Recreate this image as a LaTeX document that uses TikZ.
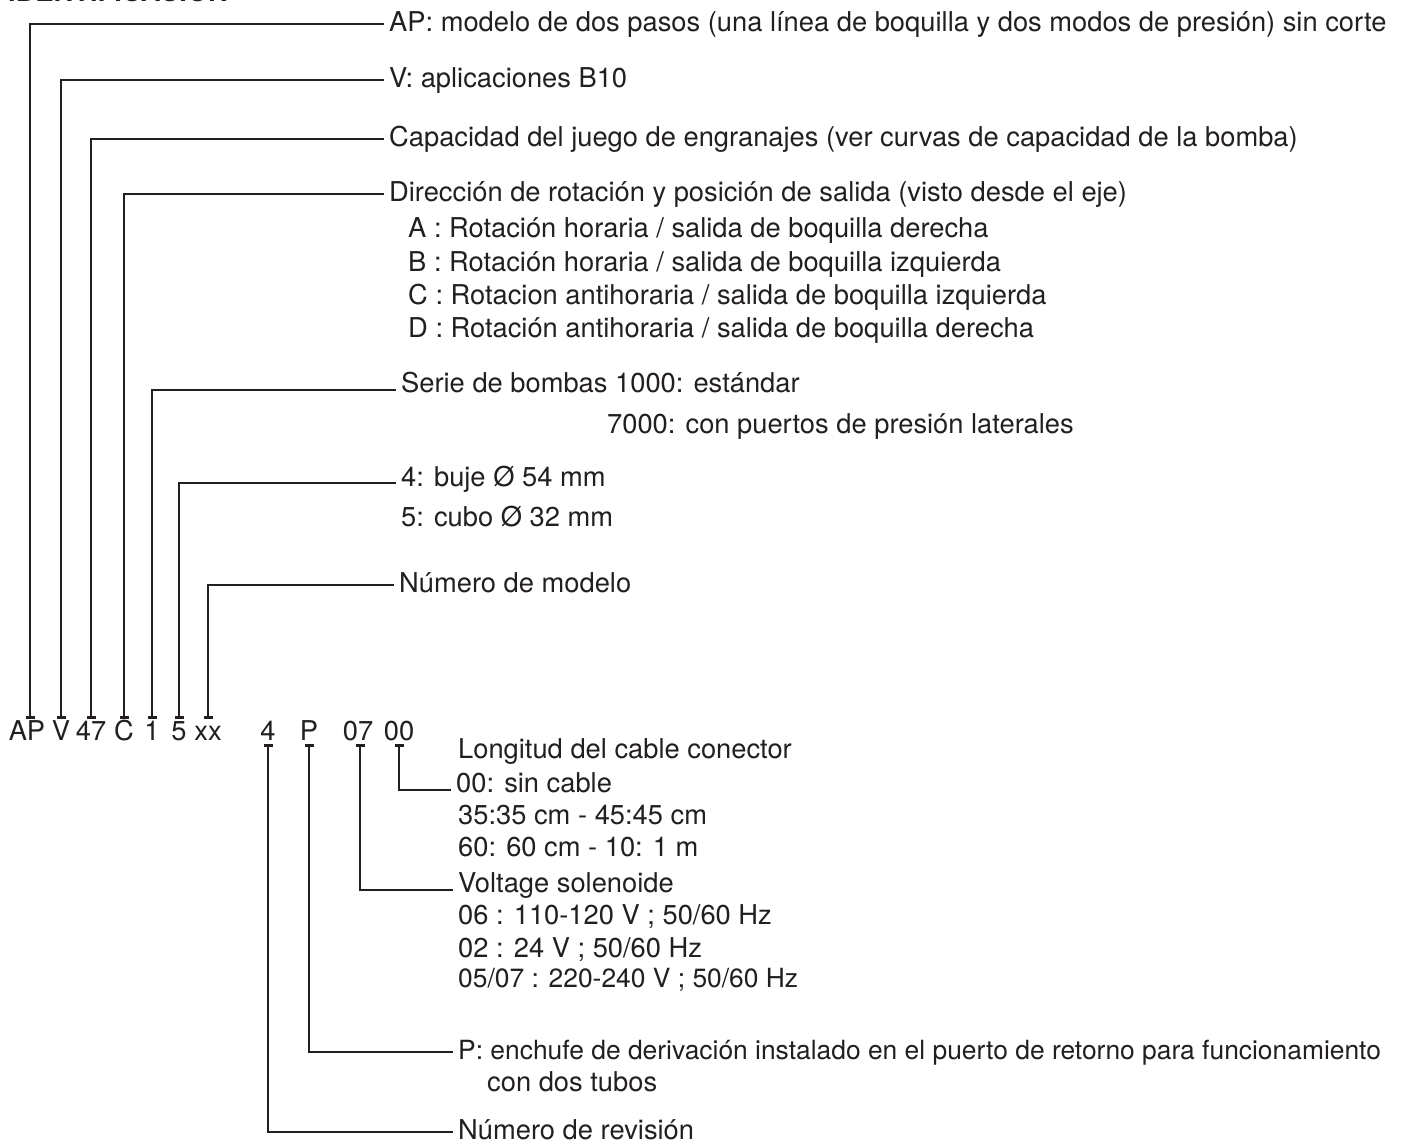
\documentclass[tikz,border=0pt]{standalone}
\usepackage{fontspec}
\setmainfont{TeX Gyre Heros}
\definecolor{ink}{HTML}{231F20}
\begin{document}
\begin{tikzpicture}[x=1pt,y=-1pt,
  lab/.style={anchor=base west, inner sep=0pt, text height=20.5pt, text depth=6.8pt,
    font=\fontsize{27.3}{33}\selectfont, text=ink},
  code/.style={anchor=base, inner sep=0pt, text height=19.6pt, text depth=0pt,
    font=\fontsize{27.3}{33}\selectfont, text=ink},
  conn/.style={line width=2.6pt, draw=ink}]
\useasboundingbox (0,0) rectangle (1406,1146);
\fill[white] (0,0) rectangle (1406,1146);

% cut-off title
\node[anchor=base west, inner sep=0pt, font=\bfseries\fontsize{27.3}{33}\selectfont, text=ink] (title) at (8,1.5) {IDENTIFICACIÓN};

% code row
\node[code] (cAP) at (27,740) {AP};
\node[code] (cV) at (61,740) {V};
\node[code] (c47) at (91,740) {47};
\node[code] (cC) at (124,740) {C};
\node[code] (c1) at (152,740) {1};
\node[code] (c5) at (179,740) {5};
\node[code] (cxx) at (208,740) {xx};
\node[code] (c4) at (268,740) {4};
\node[code] (cP) at (309,740) {P};
\node[code] (c07) at (358,740) {07};
\node[code] (c00) at (399,740) {00};

% upper labels
\node[lab] (lAP) at (389,31) {AP: modelo de dos pasos (una línea de boquilla y dos modos de presión) sin corte};
\node[lab] (lV) at (389,87) {V: aplicaciones B10};
\node[lab] (lCap) at (389,146) {Capacidad del juego de engranajes (ver curvas de capacidad de la bomba)};
\node[lab] (lDir) at (389,201) {Dirección de rotación y posición de salida (visto desde el eje)};
\node[lab] (lA) at (408,237) {A : Rotación horaria / salida de boquilla derecha};
\node[lab] (lB) at (408,271) {B : Rotación horaria / salida de boquilla izquierda};
\node[lab] (lC) at (408,304) {C : Rotacion antihoraria / salida de boquilla izquierda};
\node[lab] (lD) at (408,337) {D : Rotación antihoraria / salida de boquilla derecha};
\node[lab] (lSerie) at (401,392) {Serie de bombas 1000: estándar};
\node[lab] (l7000) at (607,433) {7000: con puertos de presión laterales};
\node[lab] (lBuje) at (401,486) {4: buje Ø 54 mm};
\node[lab] (lCubo) at (401,526) {5: cubo Ø 32 mm};
\node[lab] (lModelo) at (399,592) {Número de modelo};

% lower labels
\node[lab] (lLong) at (458,758) {Longitud del cable conector};
\node[lab] (l00) at (456,792) {00: sin cable};
\node[lab] (l35) at (458,824) {35:35 cm - 45:45 cm};
\node[lab] (l60) at (458,856) {60: 60 cm - 10: 1 m};
\node[lab] (lVolt) at (458,892) {Voltage solenoide};
\node[lab] (l06) at (458,924) {06 : 110-120 V ; 50/60 Hz};
\node[lab] (l02) at (458,957) {02 : 24 V ; 50/60 Hz};
\node[lab, font=\fontsize{26.4}{33}\selectfont] (l0507) at (458,987) {05/07 : 220-240 V ; 50/60 Hz};
\node[lab, font=\fontsize{26.4}{33}\selectfont] (lPlug) at (458,1059) {P: enchufe de derivación instalado en el puerto de retorno para funcionamiento};
\node[lab] (lTubos) at (487,1091) {con dos tubos};
\node[lab] (lRev) at (458,1139) {Número de revisión};

% upper connectors
\foreach \c/\l/\dx/\dy in {cAP/lAP/3/0, cV/lV/0/0, c47/lCap/0/0, cC/lDir/0/0, c1/lSerie/0/-5, c5/lBuje/0/-4, cxx/lModelo/0/0}{
  \draw[conn] ([xshift=\dx pt,yshift=3pt]\c.north) |- ([xshift=-5pt,yshift=\dy pt]\l.west);
  \draw[conn] ([xshift=\dx pt-4.5pt,yshift=3pt]\c.north) -- ++(9,0);
}
% lower connectors
\foreach \c/\l/\dx/\dy in {c00/l00/0/-5, c07/lVolt/2/-5, cP/lPlug/0/0, c4/lRev/0/0}{
  \draw[conn] ([xshift=\dx pt,yshift=-5pt]\c.south) |- ([xshift=-5pt,yshift=\dy pt]\l.west);
  \draw[conn] ([xshift=\dx pt-4.5pt,yshift=-5pt]\c.south) -- ++(9,0);
}
\end{tikzpicture}
\end{document}
